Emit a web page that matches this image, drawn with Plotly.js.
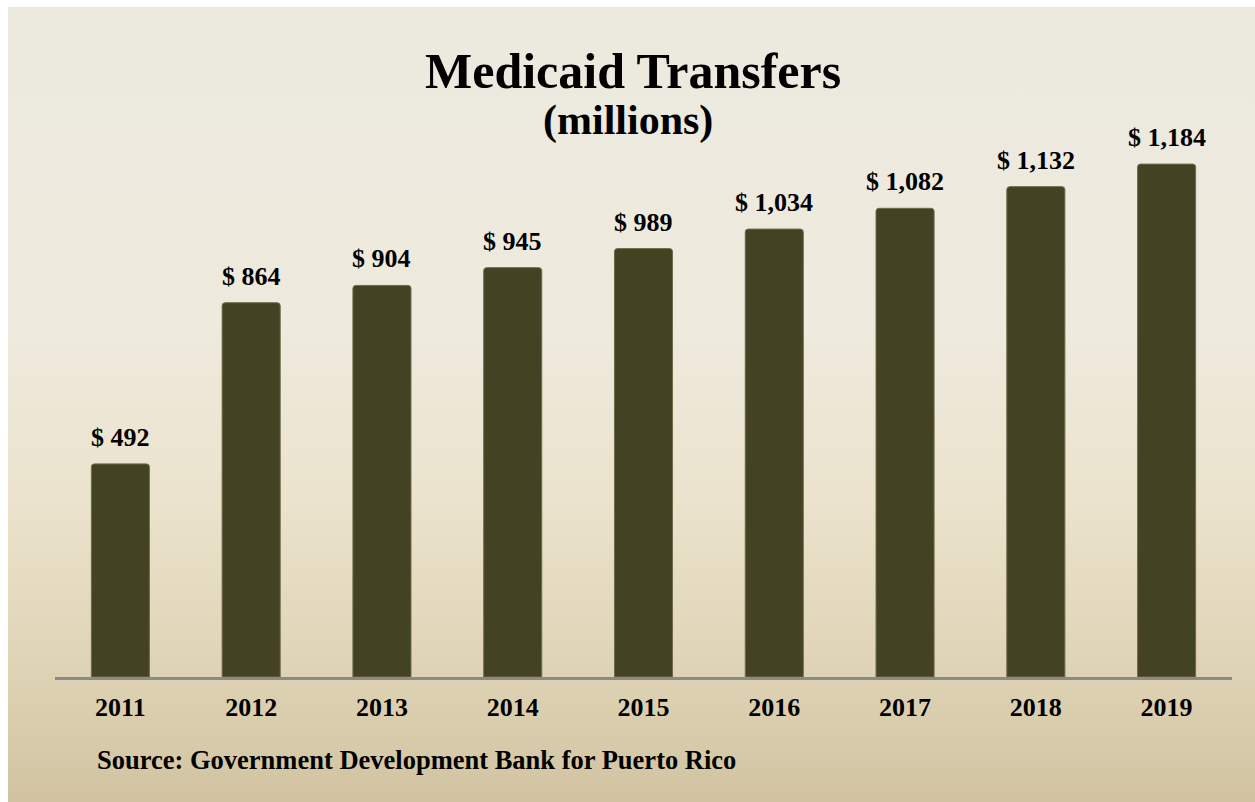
<!DOCTYPE html>
<html>
<head>
<meta charset="utf-8">
<script src="https://cdn.plot.ly/plotly-3.0.1.min.js"></script>
<style>
  html, body { margin: 0; padding: 0; background: #ffffff; }
  #bg {
    position: absolute; left: 8px; top: 7px; width: 1247px; height: 795px;
    background: linear-gradient(to bottom, #ece9df 0%, #eeeadd 40%, #ebe3cd 62%, #e1d6b9 80%, #d8cbab 92%, #d1c3a1 100%);
  }
  #chart { position: absolute; left: 0; top: 0; width: 1255px; height: 802px; }
</style>
</head>
<body>
<div id="bg"></div>
<div id="chart"></div>
<script>
const years = ['2011', '2012', '2013', '2014', '2015', '2016', '2017', '2018', '2019'];
const transfers = [492, 864, 904, 945, 989, 1034, 1082, 1132, 1184];
const titleText = 'Medicaid Transfers';
const subtitleText = '(millions)';
const sourceText = 'Source: Government Development Bank for Puerto Rico';

const serif = '"Liberation Serif", "Times New Roman", Times, serif';

const labelAnnotations = years.map((y, i) => ({
  x: i, y: transfers[i], xref: 'x', yref: 'y',
  text: '$ ' + transfers[i].toLocaleString('en-US'),
  showarrow: false, yanchor: 'bottom', xanchor: 'center', yshift: 10,
  font: { family: serif, size: 26, weight: 'bold', color: '#000000' }
}));

const data = [{
  type: 'bar',
  x: years,
  y: transfers,
  marker: { color: '#434222', line: { color: '#6e6b4a', width: 1 }, cornerradius: 3 },
  hoverinfo: 'x+y'
}];

const layout = {
  width: 1255, height: 802,
  paper_bgcolor: 'rgba(0,0,0,0)',
  plot_bgcolor: 'rgba(0,0,0,0)',
  margin: { l: 55, r: 23, t: 113, b: 125 },
  bargap: 0.556,
  showlegend: false,
  xaxis: {
    type: 'category',
    range: [-0.5, years.length - 0.5],
    showline: true, linecolor: '#8a8a8a', linewidth: 2.5,
    showgrid: false, zeroline: false, ticks: '',
    ticklabelstandoff: 5,
    tickfont: { family: serif, size: 26, weight: 'bold', color: '#000000' }
  },
  yaxis: {
    range: [0, 1302], visible: false, showgrid: false, zeroline: false, fixedrange: true
  },
  annotations: labelAnnotations.concat([
    { text: titleText, xref: 'paper', yref: 'paper', x: (633 - 55) / 1177, y: 1 - (71 - 113) / 564,
      xanchor: 'center', yanchor: 'middle', showarrow: false,
      font: { family: serif, size: 50, weight: 'bold', color: '#000000' } },
    { text: subtitleText, xref: 'paper', yref: 'paper', x: (628 - 55) / 1177, y: 1 - (120 - 113) / 564,
      xanchor: 'center', yanchor: 'middle', showarrow: false,
      font: { family: serif, size: 42, weight: 'bold', color: '#000000' } },
    { text: sourceText, xref: 'paper', yref: 'paper', x: (95 - 55) / 1177, y: 1 - (760 - 113) / 564,
      xanchor: 'left', yanchor: 'middle', showarrow: false,
      font: { family: serif, size: 26.5, weight: 'bold', color: '#000000' } }
  ])
};

Plotly.newPlot('chart', data, layout, { displayModeBar: false, staticPlot: true });
</script>
</body>
</html>
